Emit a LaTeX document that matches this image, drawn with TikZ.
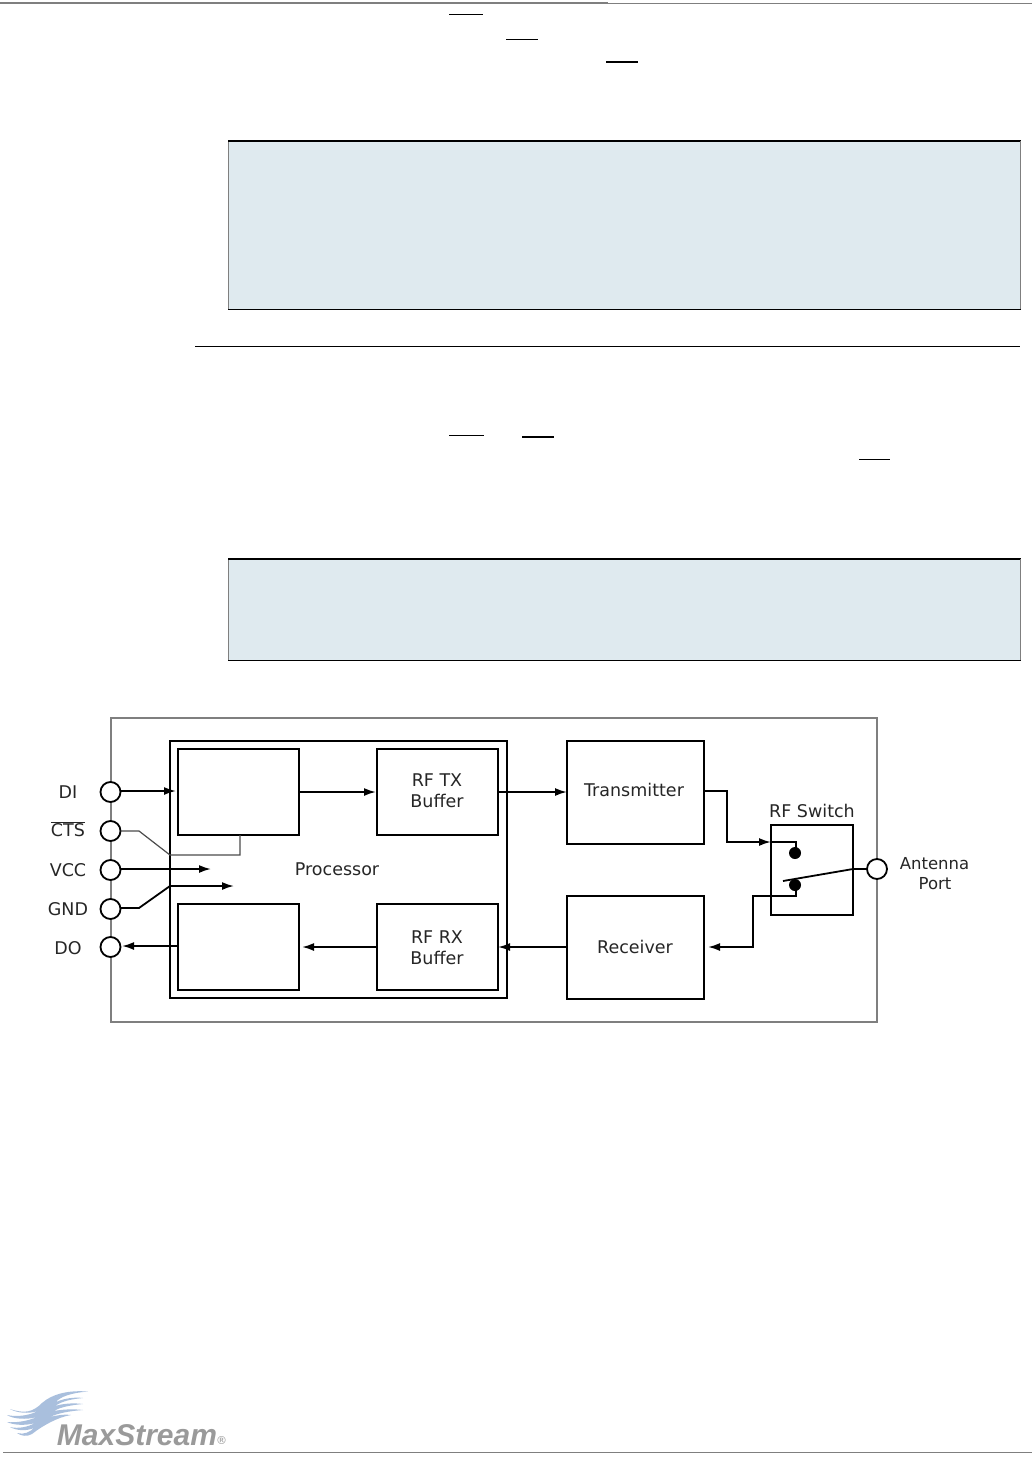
\documentclass[tikz,border=0pt]{standalone}
\usepackage{fontspec}
\setmainfont{DejaVu Sans}
\newfontfamily\logofont{Liberation Sans}
\usetikzlibrary{arrows.meta}
\definecolor{panelblue}{HTML}{DFEAEF}
\definecolor{framegray}{HTML}{7F7F7F}
\definecolor{logoblue}{HTML}{A9BFDD}
\definecolor{logogray}{HTML}{9A9A9A}
\tikzset{
    blockbox/.style={draw=black, line width=2pt, fill=white, inner sep=0pt, outer sep=0pt},
    pinnode/.style={circle, draw=black, line width=1.8pt, fill=white, minimum size=20pt, inner sep=0pt, outer sep=0pt},
    lbl/.style={font=\fontsize{17.5}{19}\selectfont, inner sep=0pt, text=black!85},
    smalllbl/.style={font=\fontsize{16.5}{18}\selectfont, inner sep=0pt, text=black!85},
    sigline/.style={line width=1.8pt, line join=miter},
    sigarrow/.style={line width=1.8pt, -{Latex[length=12pt,width=8pt]}},
    thinline/.style={line width=1.2pt, draw=black!70},
    overbar/.style={line width=1.1pt},
}
\begin{document}
\begin{tikzpicture}[x=1pt, y=-1pt]
            \useasboundingbox (0,0) rectangle (1032,1463);

            \draw[framegray, line width=2pt] (0,3.5) -- (608,3.5);
            \draw[framegray, line width=1pt] (608,4) -- (1032,4);
            \draw[overbar] (449,14.5) -- (483,14.5);
            \draw[overbar] (506,39.5) -- (538,39.5);
            \draw[overbar] (606,62) -- (638,62);
            \draw[overbar] (449,435.5) -- (484,435.5);
            \draw[overbar] (522,437) -- (554,437);
            \draw[overbar] (859,459.5) -- (890,459.5);
            \draw[line width=1pt] (195,346.5) -- (1020,346.5);

            \fill[panelblue] (228,141) rectangle (1020.5,309);
            \draw[framegray, line width=1pt] (228.5,141) -- (228.5,309);
            \draw[line width=2pt] (228,141) -- (1020.5,141);
            \draw[line width=1pt] (228,309.5) -- (1020.5,309.5);
            \draw[framegray, line width=1pt] (1020.5,141) -- (1020.5,309);
            \fill[panelblue] (228,559) rectangle (1020.5,660);
            \draw[framegray, line width=1pt] (228.5,559) -- (228.5,660);
            \draw[line width=2pt] (228,559) -- (1020.5,559);
            \draw[line width=1pt] (228,660.5) -- (1020.5,660.5);
            \draw[framegray, line width=1pt] (1020.5,559) -- (1020.5,660);

            \draw[framegray, line width=2pt] (111,718) rectangle (877,1022);

            \node[blockbox, minimum width=337pt, minimum height=257pt] (processor) at (338.5,869.5) {};
            \node[blockbox, minimum width=121pt, minimum height=86pt] (inbox) at (238.5,792) {};
            \node[blockbox, minimum width=121pt, minimum height=86pt] (outbox) at (238.5,947) {};
            \node[blockbox, minimum width=121pt, minimum height=86pt] (txbuf) at (437,792) {};
            \node[blockbox, minimum width=121pt, minimum height=86pt] (rxbuf) at (437,947) {};
            \node[blockbox, minimum width=137pt, minimum height=103pt] (transmitter) at (635.5,792.5) {};
            \node[blockbox, minimum width=137pt, minimum height=103pt] (receiver) at (635.5,947) {};
            \node[blockbox, minimum width=82pt, minimum height=90pt] (rfswitch) at (812,870) {};

            \node[pinnode] (pinDI) at (110.5,792) {};
            \node[pinnode] (pinCTS) at (110.5,831) {};
            \node[pinnode] (pinVCC) at (110.5,870) {};
            \node[pinnode] (pinGND) at (110.5,909) {};
            \node[pinnode] (pinDO) at (110.5,947) {};
            \node[pinnode] (pinANT) at (877,869) {};

            \node[lbl] (lblDI) at (68,792) {DI};
            \node[lbl] (lblCTS) at (68,829.5) {$\overline{\mbox{CTS}}$};
            \node[lbl] (lblVCC) at (68,870) {VCC};
            \node[lbl] (lblGND) at (68,909) {GND};
            \node[lbl] (lblDO) at (68,948) {DO};
            \node[lbl] (lblproc) at (337,869) {Processor};
            \node[lbl] (lbltxa) at (437,780) {RF TX};
            \node[lbl] (lbltxb) at (437,801) {Buffer};
            \node[lbl] (lblrxa) at (437,937) {RF RX};
            \node[lbl] (lblrxb) at (437,958) {Buffer};
            \node[lbl] (lbltrans) at (634,790) {Transmitter};
            \node[lbl] (lblrecv) at (635,947) {Receiver};
            \node[lbl] (lblsw) at (812,811) {RF Switch};
            \node[smalllbl] (lblanta) at (934.5,864) {Antenna};
            \node[smalllbl] (lblantb) at (935,884) {Port};

            \coordinate (diEnd) at (176,791);
            \coordinate (diStart) at (pinDI.east |- diEnd);
            \coordinate (ctsA) at (139,831);
            \coordinate (ctsB) at (170,855);
            \coordinate (ctsC) at (240,855);
            \coordinate (vccEnd) at (211,869);
            \coordinate (vccStart) at (pinVCC.east |- vccEnd);
            \coordinate (gndA) at (139,908);
            \coordinate (gndB) at (170,886);
            \coordinate (gndEnd) at (234,886);
            \coordinate (gndStart) at (pinGND.east |- gndA);
            \coordinate (doEnd) at (122,946);
            \coordinate (inboxOut) at (299,792);
            \coordinate (txIn) at (376,792);
            \coordinate (txOut) at (497,792);
            \coordinate (transIn) at (567,792);
            \coordinate (rxIn) at (302,947);
            \coordinate (rxOut) at (377,947);
            \coordinate (recvOut) at (567,947);
            \coordinate (recvEnd) at (498,947);
            \coordinate (swTop) at (771,842);
            \coordinate (transOut) at (704,791);
            \coordinate (transA) at (727,791);
            \coordinate (transB) at (727,842);
            \coordinate (dotTopIn) at (796,842);
            \coordinate (recvIn) at (708,947);
            \coordinate (recvA) at (753,947);
            \coordinate (recvB) at (753,896);
            \coordinate (dotLowIn) at (796,896);
            \coordinate (armEnd) at (783,881);
            \coordinate (armKnee) at (853,869);

            \draw[sigarrow] (diStart) -- (diEnd);
            \draw[thinline] (pinCTS.east) -- (ctsA) -- (ctsB) -- (ctsC) -- (inbox.south -| ctsC);
            \draw[sigarrow] (vccStart) -- (vccEnd);
            \draw[sigarrow] (gndStart) -- (gndA) -- (gndB) -- (gndEnd);
            \draw[sigarrow] (outbox.west |- doEnd) -- (doEnd);
            \draw[sigarrow] (inboxOut) -- (txIn);
            \draw[sigarrow] (txOut) -- (transIn);
            \draw[sigarrow] (rxOut) -- (rxIn);
            \draw[sigarrow] (recvOut) -- (recvEnd);
            \draw[sigarrow] (transOut) -- (transA) -- (transB) -- (swTop);
            \draw[sigarrow] (recvB -| rfswitch.west) -- (recvB) -- (recvA) -- (recvIn);

            \fill (795,853) circle (6pt);
            \fill (795,885) circle (6pt);
            \draw[sigline] (swTop) -- (dotTopIn) -- (796,848);
            \draw[sigline] (recvB -| rfswitch.west) -- (dotLowIn) -- (796,889);
            \draw[sigline] (armEnd) -- (armKnee) -- (pinANT.west);

            \fill[logoblue] (10,1409) .. controls (25,1414) and (33,1412) .. (42,1403) .. controls (52,1394) and (68,1390) .. (88,1391.5) .. controls (70,1393) and (60,1397) .. (56,1402) .. controls (65,1398) and (75,1397) .. (83,1398) .. controls (72,1399) and (62,1401) .. (55,1406) .. controls (65,1403) and (75,1403) .. (83,1404) .. controls (72,1405) and (60,1407) .. (54,1411) .. controls (64,1409) and (75,1409) .. (83,1410) .. controls (70,1411) and (58,1413) .. (50,1417) .. controls (58,1415) and (65,1414) .. (71,1415) .. controls (58,1417) and (42,1426) .. (32,1434) .. controls (27,1437) and (21,1436) .. (17,1433) .. controls (24,1435) and (30,1432) .. (34,1428) .. controls (27,1431) and (17,1431) .. (10,1427) .. controls (18,1429) and (28,1427) .. (35,1423) .. controls (25,1426) and (13,1425) .. (7,1422) .. controls (16,1423) and (28,1421) .. (37,1417) .. controls (26,1420) and (13,1419) .. (7,1415) .. controls (16,1417) and (28,1416) .. (38,1411) .. controls (28,1414) and (17,1413) .. (10,1409) -- cycle;
            \node[inner sep=0pt, text=logogray, font=\logofont\bfseries\itshape\fontsize{30}{32}\selectfont] (logotext) at (137,1435) {MaxStream};
            \node[inner sep=0pt, text=logogray, font=\fontsize{11}{12}\selectfont] (logomark) at (221.5,1440) {®};
            \draw[framegray, line width=1pt] (3,1452.5) -- (1032,1452.5);
        \end{tikzpicture}
\end{document}
